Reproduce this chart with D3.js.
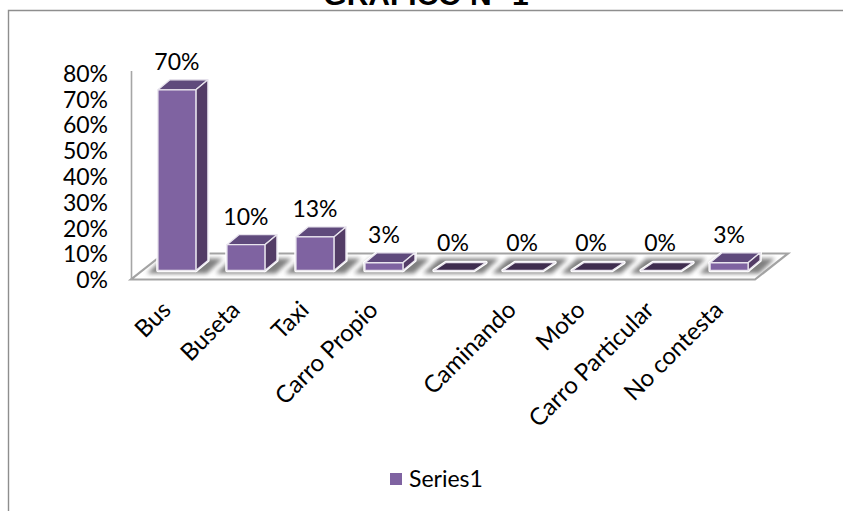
<!DOCTYPE html>
<html><head><meta charset="utf-8">
<script src="https://cdn.jsdelivr.net/npm/d3@7"></script>
<style>html,body{margin:0;padding:0;background:#fff}svg{display:block}text{font-family:Lato,"Open Sans",sans-serif;fill:#000}</style>
</head><body><svg id="c" width="843" height="511"></svg>
<script>
const slots=["Bus","Buseta","Taxi","Carro Propio","","Caminando","Moto","Carro Particular","No contesta"];
const values=[0.70,0.10,0.13,0.03,0,0,0,0,0.03];
const tickValues=[0,0.1,0.2,0.3,0.4,0.5,0.6,0.7,0.8];
const seriesName="Series1";
const titleText="GRAFICO N° 1";

const svg=d3.select("#c");
const W=843,H=511;
const front="#7f63a1",side="#533c66",top_="#5f4a7c",zero="#3f2d4f";
const defs=svg.append("defs");
const f=defs.append("filter").attr("id","sh").attr("x","-30%").attr("y","-50%").attr("width","160%").attr("height","200%");
f.append("feGaussianBlur").attr("stdDeviation",2.2);
const cp=defs.append("clipPath").attr("id","fl");

svg.append("path").attr("d",`M8.5,${H}V10.5H${W}`).attr("fill","none").attr("stroke","#8e8e8e").attr("stroke-width",1.4);

svg.append("text").attr("x",426).attr("y",4.5).attr("text-anchor","middle")
  .style("font-size","30px").style("font-weight",700).style("font-family","'Liberation Sans',sans-serif").text(titleText);

const dx=33,dy=-26;
const bdx=12,bdy=-10;
const x=d3.scaleBand().domain(d3.range(slots.length)).range([142.4,763.6]).paddingInner(0.45).paddingOuter(0.225);
const y=d3.scaleLinear().domain([0,0.8]).range([279.5,73]);
const off=-9;

const x0=131,x1=755,yb=279.5;
const floorPts=[[x0,yb],[x1,yb],[x1+dx,yb+dy],[x0+dx,yb+dy]];
const line=d3.line();
svg.append("path").attr("d",line(floorPts)+"Z").attr("fill","#fff");
cp.append("path").attr("d",line(floorPts)+"Z");
svg.append("g").attr("clip-path","url(#fl)").selectAll("path").data(values).join("path")
  .attr("filter","url(#sh)").attr("fill","#808080")
  .attr("d",(d,i)=>{const l=x(i),r=l+x.bandwidth(),b=yb-6,t=yb+dy+5;
    return line([[l-11,b],[r+11,b],[r+11+16,t],[l-11+16,t]])+"Z";});
svg.append("path").attr("d",line(floorPts)+"Z").attr("fill","none").attr("stroke","#a3a3a3").attr("stroke-width",2.2);
svg.append("path").attr("d",`M131.5,71V279.5`).attr("stroke","#a6a6a6").attr("stroke-width",1.6).attr("fill","none");

const g=svg.append("g").selectAll("g").data(values).join("g");
const stroke="#e9e5ee";
g.each(function(d,i){
  const s=d3.select(this),l=x(i),w=x.bandwidth(),b=yb+off,t=b-(y(0)-y(d));
  const st=p=>s.append("path").attr("d",line(p)+"Z").attr("fill","none").attr("stroke","#fff").attr("stroke-width",3.4).attr("stroke-linejoin","round");
  const pz=(p,c)=>s.append("path").attr("d",line(p)+"Z").attr("fill",c).attr("stroke",stroke).attr("stroke-width",1.3).attr("stroke-linejoin","round");
  if(d===0){ const p=[[l,b],[l+w+2,b],[l+w+2+bdx,b-8],[l+bdx,b-8]]; st(p); pz(p,zero); return; }
  const a=[[l,t],[l+w,t],[l+w+bdx,t+bdy],[l+bdx,t+bdy]],c=[[l+w,t],[l+w+bdx,t+bdy],[l+w+bdx,b+bdy],[l+w,b]],e=[[l,t],[l+w,t],[l+w,b],[l,b]];
  st(a);st(c);st(e);
  pz(a,top_);pz(c,side);pz(e,front);
});

svg.append("g").selectAll("text").data(values).join("text")
  .attr("text-anchor","middle").style("font-size","23px")
  .attr("x",(d,i)=>x(i)+x.bandwidth()/2)
  .attr("y",d=>yb+off-(y(0)-y(d))-20)
  .text(d=>d3.format(".0%")(d));

const ax=d3.axisLeft(y).tickValues(tickValues).tickFormat(d3.format(".0%")).tickSize(0).tickPadding(0);
const ag=svg.append("g").attr("transform","translate(108,0)").call(ax);
ag.select(".domain").remove();
ag.selectAll("text").style("font-size","23px").attr("dy","0.36em");

svg.append("g").selectAll("text").data(slots).join("text")
  .attr("text-anchor","end").style("font-size","24px")
  .attr("transform",(d,i)=>`translate(${x(i)+x.bandwidth()/2-13},${303}) rotate(-45)`)
  .attr("dy","0.5em").text(d=>d);

svg.append("rect").attr("x",390).attr("y",473).attr("width",12).attr("height",12).attr("fill",front);
svg.append("text").attr("x",409).attr("y",487).style("font-size","23px").text(seriesName);
</script></body></html>
